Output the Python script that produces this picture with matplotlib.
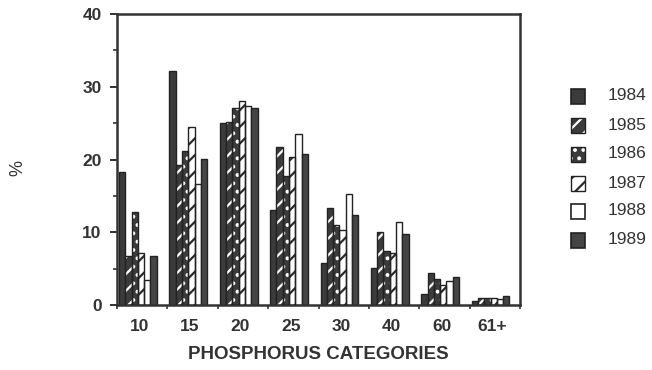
import matplotlib
matplotlib.use("Agg")
import matplotlib.pyplot as plt
from matplotlib.patches import Rectangle
import numpy as np

plt.rcParams['font.family'] = ['Liberation Sans', 'DejaVu Sans']
plt.rcParams['hatch.linewidth'] = 1.6

categories = ["10", "15", "20", "25", "30", "40", "60", "61+"]
years = ["1984", "1985", "1986", "1987", "1988", "1989"]

v1984 = [18.3, 32.2, 25.0, 13.1, 5.8, 5.1, 1.5, 0.5]
v1985 = [6.7, 19.2, 25.2, 21.7, 13.4, 10.0, 4.4, 1.0]
v1986 = [12.8, 21.1, 27.1, 17.7, 11.0, 7.4, 3.6, 1.0]
v1987 = [7.1, 24.5, 28.1, 20.4, 10.3, 7.2, 2.8, 1.0]
v1988 = [3.4, 16.7, 27.4, 23.5, 15.3, 11.4, 3.3, 0.8]
v1989 = [6.8, 20.1, 27.1, 20.7, 12.4, 9.8, 3.8, 1.3]
series = [v1984, v1985, v1986, v1987, v1988, v1989]

DARK = "#3b3b3b"
# (face colour, hatch, hatch colour) per year
styles = [
    (DARK, None, None),
    (DARK, "//", "white"),
    (DARK, "..", "white"),
    ("white", "//", "#2a2a2a"),
    ("white", None, None),
    ("#454545", None, None),
]

fig = plt.figure(figsize=(6.52, 3.70), dpi=100)
ax = fig.add_axes([117 / 652, 1 - 305 / 370, (520 - 117) / 652, (305 - 14) / 370])

n = len(categories)
idx = np.arange(n)
bw = 0.125
start = 0.04

for k, (vals, (fc, hatch, hc)) in enumerate(zip(series, styles)):
    x = idx + start + bw * (k + 0.5)
    if hatch:
        ax.bar(x, vals, width=bw, color=fc, edgecolor=hc, hatch=hatch, linewidth=0, zorder=2)
        ax.bar(x, vals, width=bw, fill=False, edgecolor="#222222", linewidth=1.0, zorder=3)
    else:
        ax.bar(x, vals, width=bw, color=fc, edgecolor="#222222", linewidth=1.0, zorder=2)

ax.set_xlim(0, n)
ax.set_ylim(0, 40)

for s in ax.spines.values():
    s.set_linewidth(1.8)
    s.set_color("#333333")

ax.set_yticks([0, 10, 20, 30, 40])
ax.set_yticks([5, 15, 25, 35], minor=True)
ax.tick_params(axis="y", which="major", length=5, width=1.4, direction="out",
               labelsize=12.5, pad=6, colors="#333333")
ax.tick_params(axis="y", which="minor", length=3, width=1.2, direction="out", colors="#333333")
for lab in ax.get_yticklabels():
    lab.set_fontweight("bold")

ax.set_xticks(np.arange(0, n + 1))
ax.set_xticklabels([])
ax.set_xticks(idx + 0.45, minor=True)
ax.set_xticklabels(categories, minor=True, fontsize=12.5, fontweight="bold", color="#333333")
ax.tick_params(axis="x", which="major", length=3, width=1.2, direction="out", colors="#333333")
ax.tick_params(axis="x", which="minor", length=0, pad=10)

ax.set_xlabel("PHOSPHORUS CATEGORIES", fontsize=13.5, fontweight="bold", color="#333333",
              labelpad=9)
fig.text(18 / 652, 1 - 168 / 370, "%", rotation=90, fontsize=13, ha="center", va="center",
         color="#333333")

# legend drawn in figure coordinates
leg_y = [96, 125, 154, 183, 211, 240]
for (fc, hatch, hc), yr, yc in zip(styles, years, leg_y):
    x0, y0, w, h = 571, yc - 7, 14, 15
    fx, fy = x0 / 652, 1 - (y0 + h) / 370
    fw, fh = w / 652, h / 370
    if hatch:
        fig.patches.append(Rectangle((fx, fy), fw, fh, transform=fig.transFigure,
                                     facecolor=fc, edgecolor=hc, hatch=hatch, linewidth=0))
        fig.patches.append(Rectangle((fx, fy), fw, fh, transform=fig.transFigure,
                                     fill=False, edgecolor="#222222", linewidth=1.0))
    else:
        fig.patches.append(Rectangle((fx, fy), fw, fh, transform=fig.transFigure,
                                     facecolor=fc, edgecolor="#222222", linewidth=1.2))
    fig.text(608 / 652, 1 - yc / 370, yr, fontsize=12.5, va="center", ha="left",
             color="#333333")

fig.savefig("out.png", dpi=100)
